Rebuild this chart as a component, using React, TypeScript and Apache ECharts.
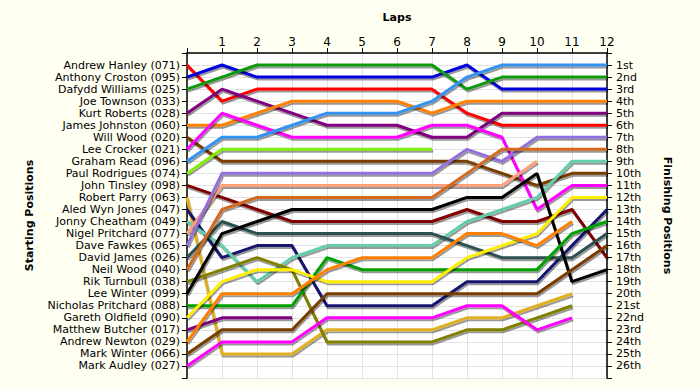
import { useEffect, useRef } from 'react';
import * as echarts from 'echarts';

const lapTicks = [0, 1, 2, 3, 4, 5, 6, 7, 8, 9, 10, 11, 12];

const startingNames = [
  'Andrew Hanley (071)', 'Anthony Croston (095)', 'Dafydd Williams (025)', 'Joe Townson (033)',
  'Kurt Roberts (028)', 'James Johnston (060)', 'Will Wood (020)', 'Lee Crocker (021)',
  'Graham Read (096)', 'Paul Rodrigues (074)', 'John Tinsley (098)', 'Robert Parry (063)',
  'Aled Wyn Jones (047)', 'Jonny Cheatham (049)', 'Nigel Pritchard (077)', 'Dave Fawkes (065)',
  'David James (026)', 'Neil Wood (040)', 'Rik Turnbull (038)', 'Lee Winter (099)',
  'Nicholas Pritchard (088)', 'Gareth Oldfield (090)', 'Matthew Butcher (017)', 'Andrew Newton (029)',
  'Mark Winter (066)', 'Mark Audley (027)',
];

const finishingLabels = [
  '1st', '2nd', '3rd', '4th', '5th', '6th', '7th', '8th', '9th', '10th', '11th', '12th', '13th',
  '14th', '15th', '16th', '17th', '18th', '19th', '20th', '21st', '22nd', '23rd', '24th', '25th', '26th',
];

// positions per lap (index = lap 0..12)
const andrewHanley = [1, 4, 3, 3, 3, 3, 3, 3, 5, 6, 6, 6, 6];
const anthonyCroston = [2, 1, 2, 2, 2, 2, 2, 2, 1, 3, 3, 3, 3];
const dafyddWilliams = [3, 2, 1, 1, 1, 1, 1, 1, 3, 2, 2, 2, 2];
const joeTownson: number[] = [];
const kurtRoberts = [5, 3, 4, 5, 6, 6, 6, 7, 7, 5, 5, 5, 5];
const jamesJohnston = [6, 6, 5, 4, 4, 4, 4, 5, 4, 4, 4, 4, 4];
const willWood = [7, 9, 9, 9, 9, 9, 9, 9, 9, 10, 11, 10, 10];
const leeCrocker = [8, 5, 6, 7, 7, 7, 7, 6, 6, 7, 13, 11, 11];
const grahamRead = [9, 7, 7, 6, 5, 5, 5, 4, 2, 1, 1, 1, 1];
const paulRodrigues = [10, 8, 8, 8, 8, 8, 8, 8];
const johnTinsley = [11, 12, 13, 14, 14, 14, 14, 14, 13, 14, 14, 13, 17];
const robertParry = [12, 25, 25, 25, 23, 23, 23, 23, 22, 22, 21, 20];
const aledWynJones = [13, 17, 16, 16, 21, 21, 21, 21, 19, 19, 19, 16, 13];
const jonnyCheatham = [14, 16, 19, 17, 16, 16, 16, 16, 14, 13, 12, 9, 9];
const nigelPritchard = [15, 11, 11, 11, 11, 11, 11, 11, 11, 11, 9];
const daveFawkes = [16, 10, 10, 10, 10, 10, 10, 10, 8, 9, 7, 7, 7];
const davidJames = [17, 14, 15, 15, 15, 15, 15, 15, 16, 17, 17, 17, 15];
const neilWood = [18, 13, 12, 12, 12, 12, 12, 12, 10, 8, 8, 8, 8];
const rikTurnbull = [19, 18, 17, 18, 24, 24, 24, 24, 23, 23, 22, 21];
const leeWinter = [20, 15, 14, 13, 13, 13, 13, 13, 12, 12, 10, 19, 18];
const nicholasPritchard = [21, 21, 21, 21, 17, 18, 18, 18, 18, 18, 18, 15, 14];
const garethOldfield = [22, 19, 18, 18, 19, 19, 19, 19, 17, 16, 15, 12, 12];
const matthewButcher = [23, 22, 22, 22];
const andrewNewton = [24, 20, 20, 20, 18, 17, 17, 17, 15, 15, 16, 14];
const markWinter = [25, 23, 23, 23, 20, 20, 20, 20, 20, 20, 20, 18, 16];
const markAudley = [26, 24, 24, 24, 22, 22, 22, 22, 21, 21, 23, 22];

const driverPositions = [
  andrewHanley, anthonyCroston, dafyddWilliams, joeTownson, kurtRoberts, jamesJohnston, willWood,
  leeCrocker, grahamRead, paulRodrigues, johnTinsley, robertParry, aledWynJones, jonnyCheatham,
  nigelPritchard, daveFawkes, davidJames, neilWood, rikTurnbull, leeWinter, nicholasPritchard,
  garethOldfield, matthewButcher, andrewNewton, markWinter, markAudley,
];

const driverColors = [
  '#ff0000', '#0000dd', '#109a10', '#000000', '#800080', '#ff8000', '#7a3c00',
  '#ff00ff', '#3492ee', '#80ee00', '#800000', '#e0b020', '#191970', '#66cdaa',
  '#ffa07a', '#9370db', '#2f4f4f', '#d2691e', '#808000', '#000000', '#00a000',
  '#ffee00', '#800080', '#ff8000', '#7a3c00', '#ff00ff',
];

const FONT = 'DejaVu Sans';

export default function App() {
  const ref = useRef<HTMLDivElement>(null);
  useEffect(() => {
    if (!ref.current) return;
    const chart = echarts.init(ref.current, null, { renderer: 'svg' });
    const series: any[] = [];
    driverPositions.forEach((arr, i) => {
      if (!arr.length) return;
      series.push({
        name: startingNames[i],
        type: 'line',
        yAxisIndex: 0,
        symbol: 'none',
        silent: true,
        data: arr.map((p, lap) => [lapTicks[lap], p]),
        lineStyle: {
          width: 3,
          color: driverColors[i],
          shadowColor: 'rgba(0,0,0,0.4)',
          shadowOffsetX: 1,
          shadowOffsetY: 2,
          shadowBlur: 1,
        },
      });
    });
    const gridLine = { show: true, lineStyle: { color: '#e2e2e2', width: 1 } };
    chart.setOption({
      animation: false,
      backgroundColor: '#fffff2',
      textStyle: { fontFamily: FONT },
      grid: {
        left: 187, right: 93, top: 53, bottom: 12,
        show: true, backgroundColor: '#ffffff', borderWidth: 0,
      },
      xAxis: {
        type: 'value', min: 0, max: 12, interval: 1, position: 'top',
        name: 'Laps', nameLocation: 'middle', nameGap: 30,
        nameTextStyle: { fontWeight: 'bold', fontSize: 11, color: '#000', fontFamily: FONT },
        axisLine: { show: true, lineStyle: { color: '#000', width: 1.5 } },
        axisTick: { show: true, length: 5, lineStyle: { color: '#000' } },
        axisLabel: {
          formatter: (v: number) => (v === 0 ? '' : String(v)),
          color: '#000', fontSize: 12, margin: 5, fontFamily: FONT,
        },
        splitLine: gridLine,
      },
      yAxis: [
        {
          type: 'value', min: 0, max: 27, interval: 1, inverse: true, position: 'left',
          name: 'Starting Positions', nameLocation: 'middle', nameGap: 152, nameRotate: 90,
          nameTextStyle: { fontWeight: 'bold', fontSize: 11, color: '#000', fontFamily: FONT },
          axisLine: { show: true, lineStyle: { color: '#000', width: 1.5 } },
          axisTick: { show: true, length: 5, lineStyle: { color: '#000' } },
          axisLabel: {
            formatter: (v: number) => startingNames[v - 1] ?? '',
            color: '#000', fontSize: 11, margin: 7, fontFamily: FONT,
          },
          splitLine: gridLine,
        },
        {
          type: 'value', min: 0, max: 27, interval: 1, inverse: true, position: 'right',
          name: 'Finishing Positions', nameLocation: 'middle', nameGap: 55, nameRotate: -90,
          nameTextStyle: { fontWeight: 'bold', fontSize: 11, color: '#000', fontFamily: FONT },
          axisLine: { show: true, lineStyle: { color: '#000', width: 1.5 } },
          axisTick: { show: true, length: 5, lineStyle: { color: '#000' } },
          axisLabel: {
            formatter: (v: number) => finishingLabels[v - 1] ?? '',
            color: '#000', fontSize: 11, margin: 9, fontFamily: FONT,
          },
          splitLine: { show: false },
        },
      ],
      series,
    });
    return () => chart.dispose();
  }, []);
  return (
    <div
      ref={ref}
      style={{ position: 'fixed', left: 0, top: 0, width: 700, height: 390 }}
    />
  );
}
